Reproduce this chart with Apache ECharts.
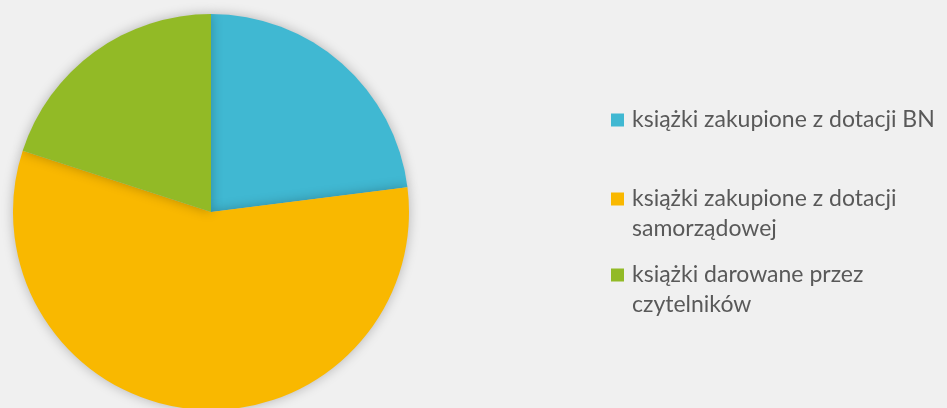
<!DOCTYPE html>
<html>
<head>
<meta charset="utf-8">
<script src="https://cdn.jsdelivr.net/npm/echarts@6/dist/echarts.min.js"></script>
<style>
  html, body { margin: 0; padding: 0; background: #f0f0f0; }
  #chart { width: 947px; height: 408px; }
</style>
</head>
<body>
<div id="chart"></div>
<script>
// kategorie (nazwy z podziałem linii jak w legendzie)
const categories = [
  'książki zakupione z dotacji BN',
  'książki zakupione z dotacji\nsamorządowej',
  'książki darowane przez\nczytelników'
];
const values = [23, 57, 20];
const colors = ['#40b8d2', '#f9b800', '#92ba26'];

const chart = echarts.init(document.getElementById('chart'));

// osobna legenda dla każdej pozycji; przy dwóch liniach ikona ma
// wyższe pole (kwadrat u góry), żeby stała przy pierwszej linii
const legendTops = [105, 184, 260];
const legends = categories.map((name, i) => {
  const lines = name.split('\n').length;
  const h = 13 + (lines - 1) * 30;
  return {
    data: [name],
    left: 611,
    top: legendTops[i],
    padding: 0,
    icon: lines > 1 ? 'path://M0,0L13,0L13,13L0,13Z M0,' + h + 'L0.01,' + h : 'rect',
    itemWidth: 13,
    itemHeight: h,
    selectedMode: false,
    textStyle: {
      color: '#595959',
      fontFamily: 'Lato',
      fontSize: 23,
      lineHeight: 30,
      padding: [0, 0, 0, 3]
    }
  };
});

chart.setOption({
  backgroundColor: '#f0f0f0',
  animation: false,
  color: colors,
  legend: legends,
  series: [{
    type: 'pie',
    center: [211, 212],
    radius: 198,
    startAngle: 90,
    label: { show: false },
    labelLine: { show: false },
    itemStyle: {
      shadowBlur: 12,
      shadowColor: 'rgba(0, 0, 0, 0.25)'
    },
    emphasis: { disabled: true },
    data: categories.map((name, i) => ({ name: name, value: values[i] }))
  }]
});
</script>
</body>
</html>
